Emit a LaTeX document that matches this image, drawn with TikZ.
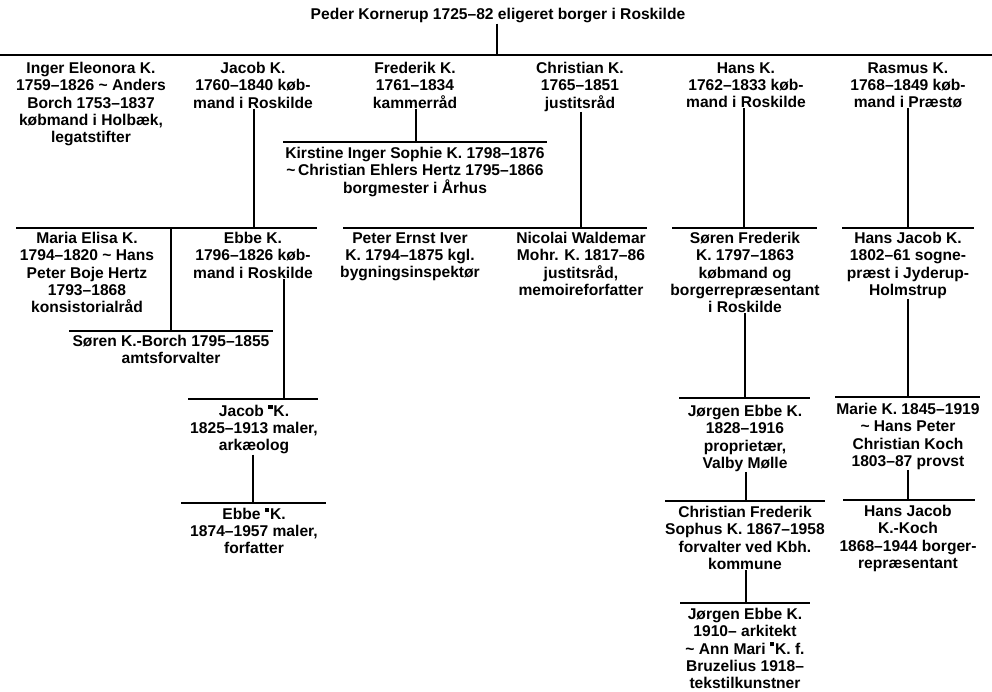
\documentclass[tikz,border=0pt]{standalone}
\usepackage{fontspec}
\setmainfont{Liberation Sans}
\newcommand\mrk{\raisebox{0.5em}{\rule{0.27em}{0.27em}}\kern0.06em}
\begin{document}
\begin{tikzpicture}[x=1pt,y=-1pt,line width=1.1pt,
  person/.style={font=\bfseries\fontsize{15.6}{17.1}\selectfont,align=center,inner sep=0pt,anchor=north}]
\path[use as bounding box] (0,0) rectangle (992,691);
% nodes
\node[person] (peder) at (498,8) {Peder Kornerup 1725–82 eligeret borger i Roskilde};
\node[person] (inger) at (91,62) {Inger Eleonora K.\\1759–1826 \textasciitilde\ Anders\\Borch 1753–1837\\købmand i Holbæk,\\legatstifter};
\node[person] (jacob) at (253,62) {Jacob K.\\1760–1840 køb-\\mand i Roskilde};
\node[person] (frederik) at (415,62) {Frederik K.\\1761–1834\\kammerråd};
\node[person] (christian) at (580,62) {Christian K.\\1765–1851\\justitsråd};
\node[person] (hans) at (746,62) {Hans K.\\1762–1833 køb-\\mand i Roskilde};
\node[person] (rasmus) at (908,62) {Rasmus K.\\1768–1849 køb-\\mand i Præstø};
\node[person] (kirstine) at (415,147) {Kirstine Inger Sophie K. 1798–1876\\\textasciitilde\,Christian Ehlers Hertz 1795–1866\\borgmester i Århus};
\node[person] (maria) at (87,232) {Maria Elisa K.\\1794–1820 \textasciitilde\ Hans\\Peter Boje Hertz\\1793–1868\\konsistorialråd};
\node[person] (ebbe) at (253,232) {Ebbe K.\\1796–1826 køb-\\mand i Roskilde};
\node[person] (peter) at (410,232) {Peter Ernst Iver\\K. 1794–1875 kgl.\\bygningsinspektør};
\node[person] (nicolai) at (581,232) {Nicolai Waldemar\\Mohr. K. 1817–86\\justitsråd,\\memoireforfatter};
\node[person] (sorenf) at (745,232) {Søren Frederik\\K. 1797–1863\\købmand og\\borgerrepræsentant\\i Roskilde};
\node[person] (hansj) at (908,232) {Hans Jacob K.\\1802–61 sogne-\\præst i Jyderup-\\Holmstrup};
\node[person] (sorenb) at (171,335) {Søren K.-Borch 1795–1855\\amtsforvalter};
\node[person] (jacobm) at (254,404) {Jacob \mrk K.\\1825–1913 maler,\\arkæolog};
\node[person] (ebbem) at (254,507) {Ebbe \mrk K.\\1874–1957 maler,\\forfatter};
\node[person] (jorgen) at (745,405) {Jørgen Ebbe K.\\1828–1916\\proprietær,\\Valby Mølle};
\node[person] (marie) at (908,403) {Marie K. 1845–1919\\\textasciitilde\ Hans Peter\\Christian Koch\\1803–87 provst};
\node[person] (chrf) at (745,506) {Christian Frederik\\Sophus K. 1867–1958\\forvalter ved Kbh.\\kommune};
\node[person] (hjk) at (908,505) {Hans Jacob\\K.-Koch\\1868–1944 borger-\\repræsentant};
\node[person] (jorgen2) at (745,608) {Jørgen Ebbe K.\\1910– arkitekt\\\textasciitilde\ Ann Mari \mrk K. f.\\Bruzelius 1918–\\tekstilkunstner};
% bars
\coordinate (b0L) at (0,55);   \coordinate (b0R) at (992,55);  \coordinate (b0) at (497,55);
\coordinate (bjL) at (16,228); \coordinate (bjR) at (317,228); \coordinate (bj) at (254,228);
\coordinate (bfL) at (283,142);\coordinate (bfR) at (547,142); \coordinate (bf) at (416,142);
\coordinate (bcL) at (343,228);\coordinate (bcR) at (647,228); \coordinate (bc) at (581,228);
\coordinate (bhL) at (672,228);\coordinate (bhR) at (817,228); \coordinate (bh) at (744,228);
\coordinate (brL) at (842,228);\coordinate (brR) at (974,228); \coordinate (br) at (908,228);
\coordinate (bmL) at (69,331); \coordinate (bmR) at (273,331); \coordinate (bm) at (171,331); \coordinate (bmt) at (171,228);
\coordinate (beL) at (188,399);\coordinate (beR) at (318,399); \coordinate (be) at (284,399);
\coordinate (bqL) at (181,503);\coordinate (bqR) at (326,503); \coordinate (bq) at (253,503);
\coordinate (bsL) at (679,398);\coordinate (bsR) at (810,398); \coordinate (bs) at (745,398);
\coordinate (bgL) at (665,501);\coordinate (bgR) at (825,501); \coordinate (bg) at (746,501);
\coordinate (bxL) at (680,603);\coordinate (bxR) at (810,603); \coordinate (bx) at (746,603);
\coordinate (byL) at (835,397);\coordinate (byR) at (980,397); \coordinate (by) at (908,397);
\coordinate (bzL) at (843,500);\coordinate (bzR) at (975,500); \coordinate (bz) at (908,500);
\foreach \b in {b0,bj,bf,bc,bh,br,bm,be,bq,bs,bg,bx,by,bz} \draw (\b L) -- (\b R);
% verticals
\draw (peder.south -| b0) -- (b0);
\draw (jacob.south -| bj) -- (bj);
\draw (frederik.south -| bf) -- (bf);
\draw (christian.south -| bc) -- (bc);
\draw (hans.south -| bh) -- (bh);
\draw (rasmus.south -| br) -- (br);
\draw (bmt) -- (bm);
\draw (ebbe.south -| be) -- (be);
\draw (jacobm.south -| bq) -- (bq);
\draw (sorenf.south -| bs) -- (bs);
\draw (jorgen.south -| bg) -- (bg);
\draw (chrf.south -| bx) -- (bx);
\draw (hansj.south -| by) -- (by);
\draw (marie.south -| bz) -- (bz);
\end{tikzpicture}
\end{document}
